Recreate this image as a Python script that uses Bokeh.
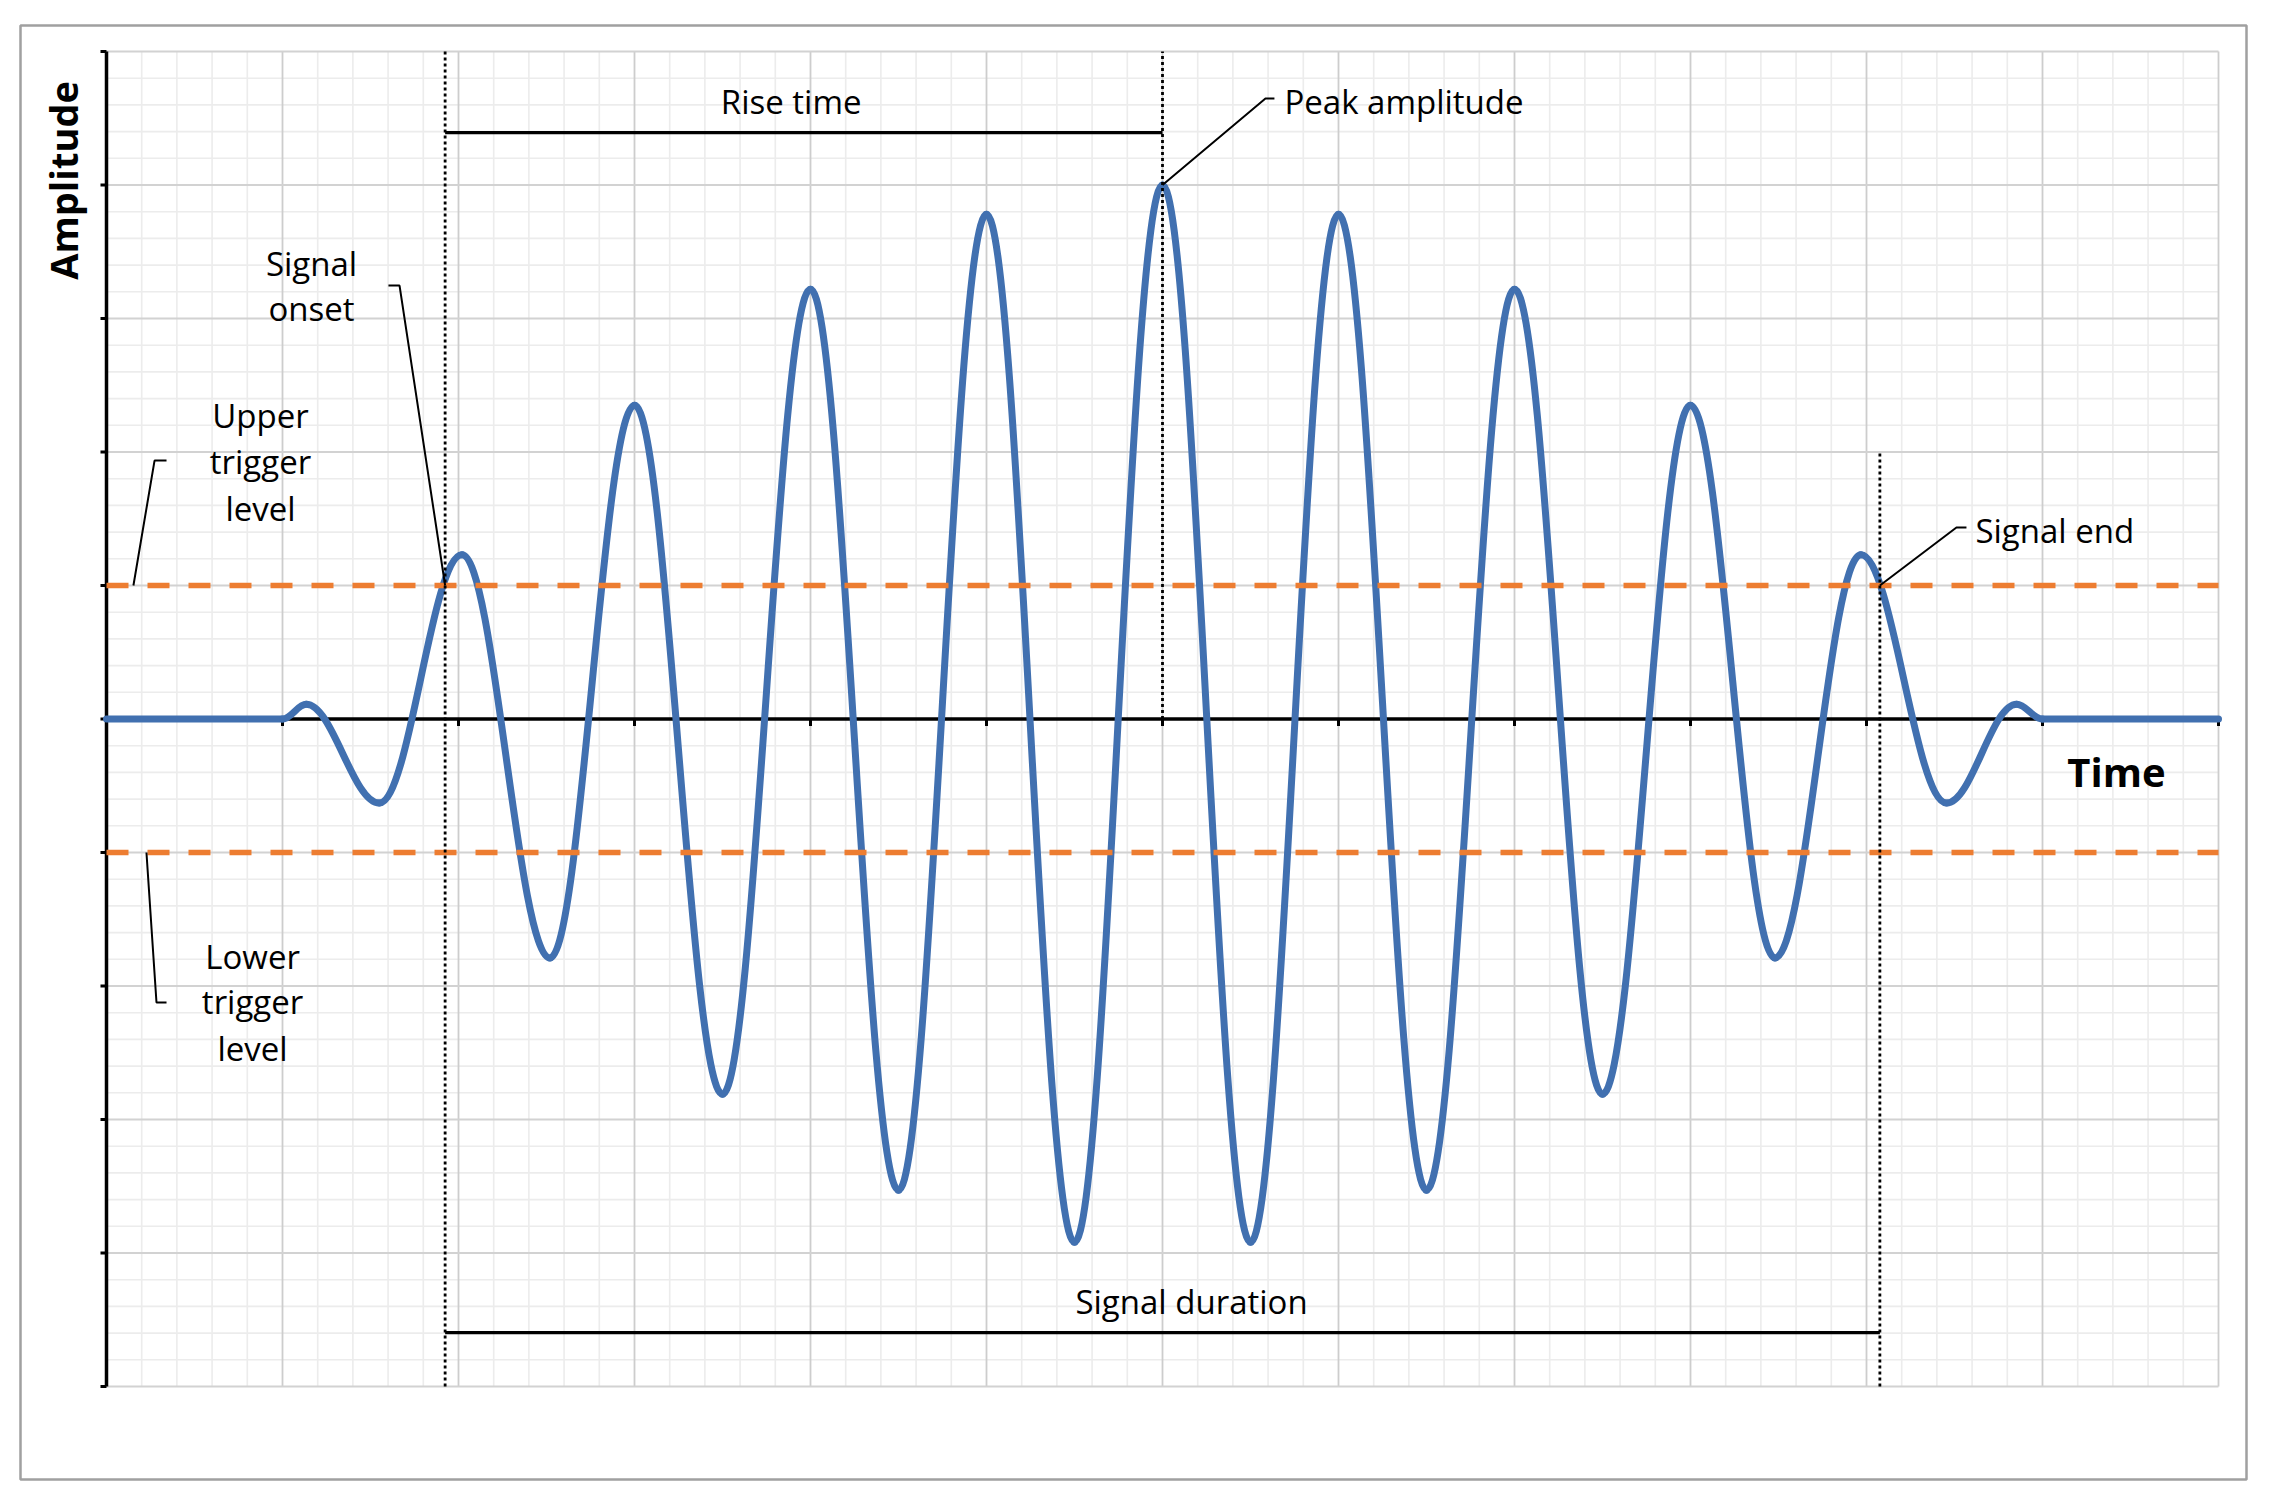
import math
from bokeh.plotting import figure
from bokeh.models import Range1d, ColumnDataSource
from bokeh.core.properties import value
from bokeh.embed import file_html
from bokeh.resources import INLINE

# ---------------- data ----------------
# extrema of the signal (time, amplitude)
signal_t = [0.0, 1.0, 1.135, 1.55, 2.02, 2.52, 3.0, 3.5, 4.0, 4.5, 5.0, 5.5, 6.0,
            6.5, 7.0, 7.5, 8.0, 8.5, 9.0, 9.48, 9.968, 10.455, 10.853, 11.0, 12.0]
signal_v = [0.0, 0.0, 0.11, -0.63, 1.23, -1.79, 2.35, -2.81, 3.22, -3.53, 3.78, -3.92, 4.0,
            -3.92, 3.78, -3.53, 3.22, -2.81, 2.35, -1.79, 1.23, -0.63, 0.11, 0.0, 0.0]
upper_trigger = 1.0
lower_trigger = -1.0
onset_t = 1.924
peak_t = 6.0
peak_v = 4.0
end_t = 10.076

x_major = list(range(0, 13))
y_major = list(range(-5, 6))
x_minor = [i / 5 for i in range(0, 61) if i % 5]
y_minor = [i / 5 for i in range(-25, 26) if i % 5]
X_MIN, X_MAX = 0, 12
Y_MIN, Y_MAX = -5, 5

# ---------------- layout ----------------
PX_X = 176.0     # px per time unit
PX_Y = 133.5     # px per amplitude unit
FRAME_W, FRAME_H = 2226, 1454
x0r = X_MIN - 86 / PX_X
y1r = Y_MAX + 26 / PX_Y
x_range = Range1d(x0r, x0r + FRAME_W / PX_X)
y_range = Range1d(y1r - FRAME_H / PX_Y, y1r)

p = figure(frame_width=FRAME_W, frame_height=FRAME_H,
           min_border_left=20, min_border_top=25, min_border_right=8, min_border_bottom=8,
           x_range=x_range, y_range=y_range, x_axis_type=None, y_axis_type=None,
           output_backend="svg", toolbar_location=None)
p.outline_line_color = "#a0a0a0"
p.outline_line_width = 2.5
p.background_fill_color = "white"
p.border_fill_color = "white"

FONT = value("Open Sans")

# grid
p.segment(x0=x_minor, y0=Y_MIN, x1=x_minor, y1=Y_MAX, line_color="#ececec", line_width=1.6)
p.segment(x0=X_MIN, y0=y_minor, x1=X_MAX, y1=y_minor, line_color="#ececec", line_width=1.6)
p.segment(x0=x_major, y0=Y_MIN, x1=x_major, y1=Y_MAX, line_color="#cdcdcd", line_width=1.8)
p.segment(x0=X_MIN, y0=y_major, x1=X_MAX, y1=y_major, line_color="#d2d2d2", line_width=1.8)

# axes
p.segment(x0=[X_MIN], y0=[Y_MIN], x1=[X_MIN], y1=[Y_MAX], line_color="black", line_width=3.5)
p.segment(x0=-6 / PX_X, y0=y_major, x1=X_MIN, y1=y_major, line_color="black", line_width=3)
p.segment(x0=[X_MIN], y0=[0], x1=[X_MAX], y1=[0], line_color="black", line_width=3.5)
p.segment(x0=x_major, y0=0, x1=x_major, y1=-7 / PX_Y, line_color="black", line_width=3)

# signal drawn as smooth bezier pieces between extrema
K = 0.364
src = ColumnDataSource(dict(
    x0=signal_t[:-1], y0=signal_v[:-1], x1=signal_t[1:], y1=signal_v[1:],
    cx0=[a + K * (b - a) for a, b in zip(signal_t[:-1], signal_t[1:])], cy0=signal_v[:-1],
    cx1=[b - K * (b - a) for a, b in zip(signal_t[:-1], signal_t[1:])], cy1=signal_v[1:],
))
p.bezier(x0="x0", y0="y0", x1="x1", y1="y1", cx0="cx0", cy0="cy0", cx1="cx1", cy1="cy1",
         source=src, line_color="#4170B0", line_width=7, line_cap="round")

# trigger levels
for lv in (upper_trigger, lower_trigger):
    p.line(x=[X_MIN, X_MAX], y=[lv, lv], line_color="#ED7D31", line_width=5.5, line_dash="22 19")

# dotted verticals
DOT = dict(line_color="black", line_width=2.8, line_dash="3 3")
p.line(x=[onset_t, onset_t], y=[Y_MIN, Y_MAX], **DOT)
p.line(x=[peak_t, peak_t], y=[0, Y_MAX], **DOT)
p.line(x=[end_t, end_t], y=[Y_MIN, 2], **DOT)

# rise time / duration bars
p.line(x=[onset_t, peak_t], y=[4.393, 4.393], line_color="black", line_width=3.2)
p.line(x=[onset_t, end_t], y=[-4.596, -4.596], line_color="black", line_width=3.2)

# leader lines
LEAD = dict(line_color="black", line_width=2)
p.line(x=[peak_t, 6.585, 6.636], y=[peak_v, 4.648, 4.648], **LEAD)
p.line(x=[end_t, 10.511, 10.568], y=[upper_trigger, 1.434, 1.434], **LEAD)
p.line(x=[onset_t, 1.665, 1.602], y=[upper_trigger, 3.247, 3.247], **LEAD)
p.line(x=[0.153, 0.273, 0.341], y=[upper_trigger, 1.936, 1.936], **LEAD)
p.line(x=[0.227, 0.284, 0.341], y=[lower_trigger, -2.124, -2.124], **LEAD)

# labels
DY = 0.083
TXT = dict(text_font=FONT, text_font_size=value("33px"), text_color="black",
           text_baseline="alphabetic")
p.text(x=[3.89], y=[4.543 + DY], text=["Rise time"], text_align="center", **TXT)
p.text(x=[6.165], y=[-4.446 + DY], text=["Signal duration"], text_align="center", **TXT)
p.text(x=[6.693], y=[4.543 + DY], text=["Peak amplitude"], text_align="left", **TXT)
p.text(x=[10.619], y=[1.330 + DY], text=["Signal end"], text_align="left", **TXT)
p.text(x=[1.165, 1.165], y=[3.330 + DY, 2.993 + DY], text=["Signal", "onset"],
       text_align="center", **TXT)
p.text(x=[0.875] * 3, y=[2.191 + DY, 1.846 + DY, 1.494 + DY], text=["Upper", "trigger", "level"],
       text_align="center", **TXT)
p.text(x=[0.830] * 3, y=[-1.861 + DY, -2.199 + DY, -2.551 + DY], text=["Lower", "trigger", "level"],
       text_align="center", **TXT)

p.text(x=[11.42], y=[-0.393], text=["Time"], text_align="center", text_baseline="alphabetic",
       text_font=FONT, text_font_size=value("40px"), text_font_style="bold", text_color="black")
p.text(x=[-0.245], y=[4.034], text=["Amplitude"], angle=math.pi / 2, text_align="center",
       text_baseline="alphabetic", text_font=FONT, text_font_size=value("38px"),
       text_font_style="bold", text_color="black")

open("out.html", "w").write(file_html(p, INLINE))
